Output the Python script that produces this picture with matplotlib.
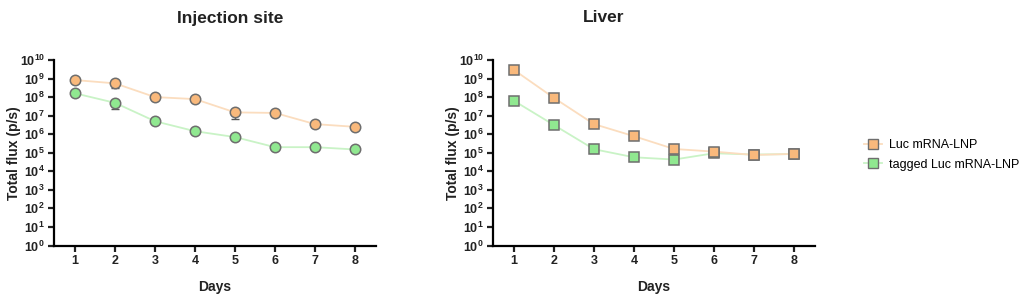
import numpy as np
import matplotlib
matplotlib.use("Agg")
import matplotlib.pyplot as plt
from matplotlib.ticker import FixedLocator, FuncFormatter, NullLocator
from matplotlib.lines import Line2D

plt.rcParams['font.family'] = ['Liberation Sans', 'DejaVu Sans']
plt.rcParams['mathtext.fontset'] = 'custom'
plt.rcParams['mathtext.rm'] = 'Liberation Sans:bold'
plt.rcParams['mathtext.bf'] = 'Liberation Sans:bold'

days = [1, 2, 3, 4, 5, 6, 7, 8]
series_names = ["Luc mRNA-LNP", "tagged Luc mRNA-LNP"]

inj_luc = [8.3e8, 5.5e8, 1.0e8, 7.8e7, 1.5e7, 1.4e7, 3.5e6, 2.5e6]
inj_luc_err_low = [0, 2.3e8, 3.0e7, 0, 8.0e6, 0, 1.2e6, 0]
inj_tag = [1.6e8, 4.9e7, 5.0e6, 1.45e6, 7.0e5, 2.0e5, 2.0e5, 1.5e5]
inj_tag_err_low = [5.0e7, 2.6e7, 0, 0, 0, 0, 0, 0]

liv_luc = [2.9e9, 9.0e7, 3.5e6, 7.8e5, 1.6e5, 1.15e5, 7.6e4, 8.7e4]
liv_tag = [6.3e7, 3.1e6, 1.55e5, 5.7e4, 4.3e4, 9.4e4, 8.0e4, 8.5e4]
liv_tag_err_low = [0, 0, 0, 0, 1.5e4, 2.5e4, 0, 0]

titles = ["Injection site", "Liver"]
ylabel = "Total flux (p/s)"
xlabel = "Days"

c_luc_fill = "#F9B97C"
c_luc_line = "#FBDDBF"
c_tag_fill = "#90E890"
c_tag_line = "#C9F3C6"
c_edge = "#6E6E6E"

fig = plt.figure(figsize=(10.24, 3.0), dpi=100)
ax1 = fig.add_axes([54/1024, 54.5/300, 322/1024, 185.5/300])
ax2 = fig.add_axes([493/1024, 54.5/300, 322/1024, 185.5/300])

def style(ax):
    ax.set_yscale('log')
    ax.set_ylim(1, 1e10)
    ax.set_xlim(0.475, 8.525)
    ax.yaxis.set_major_locator(FixedLocator([10.0**k for k in range(11)]))
    ax.yaxis.set_minor_locator(NullLocator())
    ax.yaxis.set_major_formatter(FuncFormatter(lambda v, p: r'$\mathbf{10^{%d}}$' % int(round(np.log10(v)))))
    ax.set_xticks(days)
    ax.set_xticklabels([str(d) for d in days], fontweight='bold')
    for s in ['top', 'right']:
        ax.spines[s].set_visible(False)
    for s in ['left', 'bottom']:
        ax.spines[s].set_linewidth(1.6)
    ax.tick_params(axis='both', which='major', length=4.5, width=1.6, labelsize=9, colors='#222222', pad=2)
    ax.set_ylabel(ylabel, fontsize=10, fontweight='bold', color='#222222', labelpad=-1)
    ax.set_xlabel(xlabel, fontsize=10, fontweight='bold', color='#222222', labelpad=10)

def plot_series(ax, y, err_low, fill, line, marker):
    ax.plot(days, y, color=line, lw=1.3, zorder=2)
    if err_low is not None:
        lows = np.array(err_low)
        ax.errorbar(days, y, yerr=[lows, np.zeros_like(lows)], fmt='none',
                    ecolor='#555555', elinewidth=1.0, capsize=3, capthick=1.0, zorder=3)
    ax.plot(days, y, linestyle='none', marker=marker, markersize=7.5,
            markerfacecolor=fill, markeredgecolor=c_edge, markeredgewidth=1.1, zorder=4)

plot_series(ax1, inj_luc, inj_luc_err_low, c_luc_fill, c_luc_line, 'o')
plot_series(ax1, inj_tag, inj_tag_err_low, c_tag_fill, c_tag_line, 'o')
plot_series(ax2, liv_tag, liv_tag_err_low, c_tag_fill, c_tag_line, 's')
plot_series(ax2, liv_luc, None, c_luc_fill, c_luc_line, 's')

style(ax1)
style(ax2)

fig.text(230/1024, 1 - 18/300, titles[0], ha='center', va='center', fontsize=12.5, fontweight='bold', color='#222222')
fig.text(604/1024, 1 - 18/300, titles[1], ha='center', va='center', fontsize=12.5, fontweight='bold', color='#222222')

handles = [
    Line2D([0], [0], color=c_luc_line, lw=1.3, marker='s', markersize=7,
           markerfacecolor=c_luc_fill, markeredgecolor=c_edge, markeredgewidth=1.0),
    Line2D([0], [0], color=c_tag_line, lw=1.3, marker='s', markersize=7,
           markerfacecolor=c_tag_fill, markeredgecolor=c_edge, markeredgewidth=1.0),
]
fig.legend(handles, series_names, loc='center left', bbox_to_anchor=(853/1024, 1 - 155/300),
           frameon=False, fontsize=9, handlelength=1.4, handletextpad=0.6, labelspacing=0.6)

fig.savefig("out.png", dpi=100)
